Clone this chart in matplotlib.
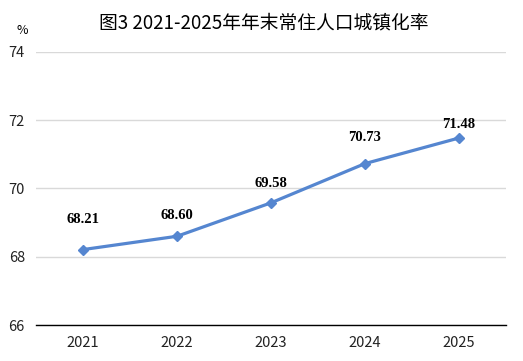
import matplotlib
matplotlib.use("Agg")
import matplotlib.pyplot as plt

years = ["2021", "2022", "2023", "2024", "2025"]
rates = [68.21, 68.60, 69.58, 70.73, 71.48]
yticks = [66, 68, 70, 72, 74]
title = "图3 2021-2025年年末常住人口城镇化率"

# label offsets in points (style)
label_offsets = [(0, 17), (0, 10), (0, 9), (0, 14), (0, 5)]

plt.rcParams['font.family'] = ['Noto Sans CJK SC', 'DejaVu Sans']

fig = plt.figure(figsize=(5.23, 3.61), dpi=100)
ax = fig.add_axes([0.0688, 0.0997, 0.8987, 0.7563])

x = list(range(len(years)))
color = "#5586D0"
ax.plot(x, rates, color=color, lw=2.3, marker="D", ms=5, mfc=color, mec=color, zorder=3)

for xi, v, off in zip(x, rates, label_offsets):
    ax.annotate(f"{v:.2f}", (xi, v), xytext=off, textcoords="offset points",
                ha="center", va="bottom", fontsize=10.5, fontweight="bold",
                family="Liberation Serif")

ax.set_xlim(-0.5, len(years) - 0.5)
ax.set_ylim(66, 74)
ax.set_yticks(yticks)
ax.set_xticks(x)
ax.set_xticklabels(years)
ax.tick_params(axis="both", length=0, labelsize=10.5, colors="#222222")
ax.tick_params(axis="y", pad=8)
ax.tick_params(axis="x", pad=8)
ax.grid(axis="y", color="#d9d9d9", lw=1)
ax.set_axisbelow(True)
for s in ["top", "right", "left"]:
    ax.spines[s].set_visible(False)
ax.spines["bottom"].set_color("black")
ax.spines["bottom"].set_linewidth(1)

fig.text(0.505, 0.937, title, ha="center", va="center", fontsize=13.5, fontweight="medium")
fig.text(0.042, 0.915, "%", ha="center", va="center", fontsize=9)

fig.savefig("out.png", dpi=100)
